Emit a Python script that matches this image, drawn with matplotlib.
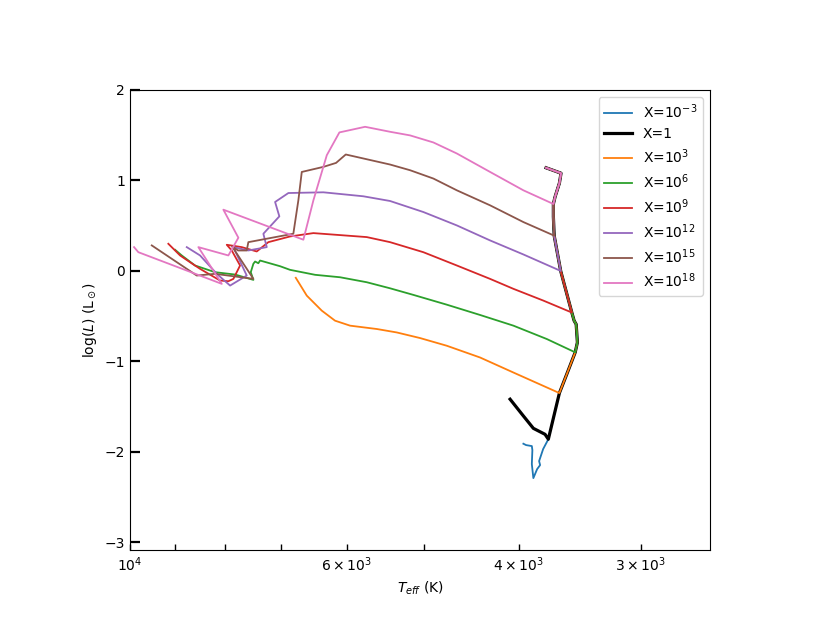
import numpy as np
import matplotlib
matplotlib.use("Agg")
import matplotlib.pyplot as plt

# shared Hayashi track (top -> bottom), every track starts on it
hayashi_teff = [3752, 3622, 3636, 3673, 3688, 3688, 3681, 3658, 3625, 3588,
                3531, 3512, 3495, 3485, 3503, 3573, 3636, 3732]
hayashi_logl = [1.14, 1.08, 0.97, 0.82, 0.74, 0.60, 0.39, 0.23, 0.00, -0.18,
                -0.46, -0.55, -0.59, -0.79, -0.90, -1.14, -1.35, -1.86]

# index on the Hayashi track where each track leaves it
split_index = {"1e-3": 17, "1": 17, "1e3": 16, "1e6": 14,
               "1e9": 10, "1e12": 8, "1e15": 6, "1e18": 4}

# branch of each track after it leaves the Hayashi track
branch_teff = {
    "1e-3": [3778, 3814, 3805, 3832, 3866, 3880, 3875, 3880, 3933, 3958],
    "1": [3761, 3866, 3958, 4084],
    "1e3": [4052, 4383, 4741, 5049, 5334, 5591, 5954, 6169, 6365, 6594, 6767],
    "1e6": [3745, 4052, 4383, 4741, 5129, 5419, 5725, 6096, 6466, 6859, 7022,
            7361, 7391, 7448, 7478, 7524, 7478, 7808, 8185, 8580, 8853, 8994],
    "1e9": [3776, 4052, 4281, 4630, 5010, 5419, 5725, 6492, 6859, 7219, 7419,
            7686, 7962, 7869, 7716, 7777, 7839, 7932, 8089, 8479, 8681, 8888, 9137],
    "1e12": [3958, 4281, 4630, 5010, 5419, 5771, 6341, 6886, 7105, 7034, 7304,
             7246, 7567, 7839, 7596, 7900, 8152, 8479, 8749],
    "1e15": [3958, 4281, 4630, 4893, 5169, 5419, 6015, 6154, 6341, 6672, 6726,
             6806, 7567, 7596, 7753, 7863, 7478, 8185, 8545, 9501],
    "1e18": [3958, 4281, 4630, 4893, 5169, 5419, 5747, 6106, 6290, 6492, 6647,
             8026, 7747, 7932, 8513, 8056, 9806, 9906],
}
branch_logl = {
    "1e-3": [-1.969, -2.102, -2.146, -2.191, -2.290, -2.135, -1.980, -1.936, -1.925, -1.910],
    "1": [-1.806, -1.740, -1.603, -1.418],
    "1e3": [-1.123, -0.957, -0.827, -0.742, -0.680, -0.642, -0.605, -0.550, -0.439, -0.273, -0.076],
    "1e6": [-0.753, -0.605, -0.487, -0.373, -0.265, -0.192, -0.125, -0.070, -0.043, 0.012, 0.052,
            0.115, 0.085, 0.104, 0.079, -0.014, -0.099, -0.040, -0.014, 0.060, 0.171, 0.234],
    "1e9": [-0.328, -0.198, -0.088, 0.060, 0.207, 0.318, 0.374, 0.418, 0.381, 0.318, 0.215,
            0.263, 0.289, 0.226, 0.060, -0.014, -0.088, -0.114, -0.106, 0.023, 0.096, 0.171, 0.300],
    "1e12": [0.182, 0.337, 0.503, 0.651, 0.773, 0.825, 0.869, 0.861, 0.762, 0.603, 0.411,
             0.263, 0.226, 0.263, -0.051, -0.162, -0.032, 0.171, 0.263],
    "1e15": [0.540, 0.725, 0.891, 1.021, 1.113, 1.176, 1.287, 1.194, 1.150, 1.094, 0.780,
             0.411, 0.318, 0.226, 0.226, 0.271, -0.088, -0.032, -0.051, 0.282],
    "1e18": [0.891, 1.094, 1.298, 1.420, 1.498, 1.538, 1.593, 1.531, 1.279, 0.780, 0.345,
             0.677, 0.367, 0.171, 0.263, -0.143, 0.207, 0.263],
}

order = ["1e-3", "1", "1e3", "1e6", "1e9", "1e12", "1e15", "1e18"]
labels = [r"X=$10^{-3}$", "X=1", r"X=$10^{3}$", r"X=$10^{6}$", r"X=$10^{9}$",
          r"X=$10^{12}$", r"X=$10^{15}$", r"X=$10^{18}$"]
colors = ["C0", "k", "C1", "C2", "C3", "C4", "C5", "C6"]


def main():
    fig = plt.figure(figsize=(8.22, 6.35), dpi=100)
    ax = fig.add_axes([0.1582, 0.1331, 0.7055, 0.7252])

    for key, lab, col in zip(order, labels, colors):
        k = split_index[key] + 1
        teff = hayashi_teff[:k] + branch_teff[key]
        logl = hayashi_logl[:k] + branch_logl[key]
        lw = 2.3 if key == "1" else 1.3
        ax.plot(teff, logl, color=col, lw=lw, label=lab)

    ax.set_xscale("log")
    ax.set_xlim(1e4, 2550)
    ax.set_ylim(-3.09, 2.0)
    ax.set_yticks([-3, -2, -1, 0, 1, 2])

    ax.tick_params(axis="y", which="major", direction="in", length=7, width=1.6)
    ax.tick_params(axis="x", which="both", direction="in", length=4.5, width=1.0)

    ax.set_xlabel(r"$T_{eff}$ (K)")
    ax.set_ylabel(r"log($L$) (L$_\odot$)")
    ax.legend(loc="upper right", labelspacing=0.45)

    fig.savefig("out.png", dpi=100)
    plt.close(fig)


if __name__ == "__main__":
    main()
